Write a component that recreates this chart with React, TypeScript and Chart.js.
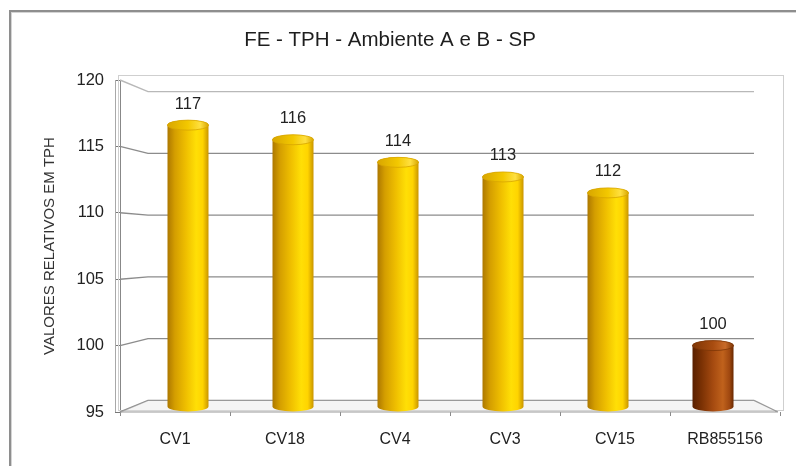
import React, { useEffect, useRef } from "react";
import { Chart, registerables } from "chart.js";

Chart.register(...registerables);

const categories = ["CV1", "CV18", "CV4", "CV3", "CV15", "RB855156"];
const values = [116.6, 115.5, 113.8, 112.7, 111.5, 100.0];
const yTicks = [95, 100, 105, 110, 115, 120];
const barPalette = ["gold", "gold", "gold", "gold", "gold", "brown"];
const TITLE = "FE - TPH - Ambiente A e B - SP";
const Y_TITLE = "VALORES RELATIVOS EM TPH";

const FONT = "'Liberation Sans', Arial, Helvetica, sans-serif";

const palettes: Record<string, { stops: [number, string][]; cap: string; capHi: string; rim: string }> = {
  gold: {
    stops: [
      [0, "#ad7800"],
      [0.18, "#d49e00"],
      [0.45, "#efbf00"],
      [0.7, "#ffdf06"],
      [0.86, "#ffd400"],
      [1, "#c99500"],
    ],
    cap: "#f3c800",
    capHi: "#ffe040",
    rim: "#d8a600",
  },
  brown: {
    stops: [
      [0, "#5a2000"],
      [0.22, "#7a3104"],
      [0.5, "#a54a10"],
      [0.74, "#c0621c"],
      [0.9, "#a04810"],
      [1, "#682800"],
    ],
    cap: "#a84c10",
    capHi: "#c86a28",
    rim: "#7e3606",
  },
};

const decorPlugin = {
  id: "decor3d",
  beforeDatasetsDraw(chart: any) {
    const { ctx, chartArea, scales } = chart;
    const { left, right, top, bottom } = chartArea;
    const y = scales.y;
    ctx.save();
    // plot frame
    ctx.strokeStyle = "#cfcfcf";
    ctx.lineWidth = 1;
    ctx.strokeRect(left - 2 + 0.5, top - 5 + 0.5, right + 3 - (left - 2), bottom - 2 - (top - 5));
    // back-wall gridlines with 3D connectors
    const cy = (top + bottom) / 2;
    const depth = 28;
    const backRight = right - 26;
    let yBackFloor = bottom;
    yTicks.forEach((v) => {
      const yF = y.getPixelForValue(v);
      const yB = cy + (yF - cy) * 0.93;
      if (v === yTicks[0]) yBackFloor = yB;
      ctx.strokeStyle = v === yTicks[yTicks.length - 1] ? "#b8b8b8" : "#8c8c8c";
      ctx.lineWidth = 1.4;
      ctx.beginPath();
      ctx.moveTo(left, yF);
      ctx.lineTo(left + depth, yB);
      ctx.lineTo(backRight, yB);
      ctx.stroke();
    });
    // floor
    ctx.fillStyle = "rgba(225,225,225,0.35)";
    ctx.beginPath();
    ctx.moveTo(left, bottom);
    ctx.lineTo(left + depth, yBackFloor);
    ctx.lineTo(backRight, yBackFloor);
    ctx.lineTo(right - 2, bottom);
    ctx.closePath();
    ctx.fill();
    ctx.strokeStyle = "#9a9a9a";
    ctx.lineWidth = 1.2;
    ctx.beginPath();
    ctx.moveTo(left, bottom);
    ctx.lineTo(right - 2, bottom);
    ctx.moveTo(backRight, yBackFloor);
    ctx.lineTo(right - 2, bottom);
    ctx.stroke();
    // second (depth) axis edge
    ctx.strokeStyle = "#a8a8a8";
    ctx.lineWidth = 1;
    ctx.beginPath();
    ctx.moveTo(left - 4.5, top);
    ctx.lineTo(left - 4.5, bottom);
    ctx.stroke();
    ctx.restore();
  },
  afterDatasetsDraw(chart: any) {
    const { ctx, chartArea } = chart;
    const meta = chart.getDatasetMeta(0);
    ctx.save();
    meta.data.forEach((el: any, i: number) => {
      const { x, y, base, width } = el.getProps(["x", "y", "base", "width"], true);
      const pal = palettes[barPalette[i]];
      const rx = width / 2;
      const ry = 5;
      const yTop = y;
      const yBot = Math.min(base, chartArea.bottom) - ry;
      const grad = ctx.createLinearGradient(x - rx, 0, x + rx, 0);
      pal.stops.forEach(([o, c]) => grad.addColorStop(o, c));
      ctx.fillStyle = grad;
      ctx.beginPath();
      ctx.moveTo(x - rx, yTop);
      ctx.lineTo(x - rx, yBot);
      ctx.ellipse(x, yBot, rx, ry, 0, Math.PI, 0, true);
      ctx.lineTo(x + rx, yTop);
      ctx.ellipse(x, yTop, rx, ry, 0, 0, Math.PI, true);
      ctx.closePath();
      ctx.fill();
      // cap
      const capGrad = ctx.createLinearGradient(x - rx, 0, x + rx, 0);
      capGrad.addColorStop(0, pal.rim);
      capGrad.addColorStop(0.5, pal.cap);
      capGrad.addColorStop(0.8, pal.capHi);
      capGrad.addColorStop(1, pal.rim);
      ctx.fillStyle = capGrad;
      ctx.beginPath();
      ctx.ellipse(x, yTop, rx, ry, 0, 0, Math.PI * 2);
      ctx.fill();
      ctx.strokeStyle = pal.rim;
      ctx.lineWidth = 0.8;
      ctx.stroke();
      // value label
      ctx.fillStyle = "#222";
      ctx.font = `16.5px ${FONT}`;
      ctx.textAlign = "center";
      ctx.textBaseline = "middle";
      ctx.fillText(String(Math.round(values[i])), x, yTop - 21);
    });
    ctx.restore();
  },
};

export default function App() {
  const canvasRef = useRef<HTMLCanvasElement | null>(null);

  useEffect(() => {
    const canvas = canvasRef.current;
    if (!canvas) return;
    const chart = new Chart(canvas, {
      type: "bar",
      data: {
        labels: categories,
        datasets: [
          {
            type: "bar",
            data: values.map((v, i) => ({ x: i, y: v })),
            xAxisID: "x2",
            yAxisID: "y",
            base: yTicks[0],
            barThickness: 41,
            backgroundColor: "rgba(0,0,0,0)",
            borderWidth: 0,
          } as any,
        ],
      },
      options: {
        animation: false,
        responsive: false,
        maintainAspectRatio: false,
        layout: { padding: { left: 0, right: 16, top: 0, bottom: 0 } },
        plugins: {
          legend: { display: false },
          tooltip: { enabled: false },
          title: {
            display: true,
            text: TITLE,
            color: "#1e1e1e",
            font: { family: FONT, size: 20.5, weight: "normal" as any },
            padding: { top: 28, bottom: 27.4 },
          },
        },
        scales: {
          x: {
            type: "category",
            labels: categories,
            offset: true,
            position: "bottom",
            grid: {
              display: true,
              offset: true,
              drawOnChartArea: false,
              drawTicks: true,
              tickLength: 4,
              color: "#8a8a8a",
            },
            border: { display: false },
            ticks: {
              color: "#222",
              font: { family: FONT, size: 16 },
              padding: 14,
              maxRotation: 0,
              autoSkip: false,
            },
            afterFit: (s: any) => {
              s.height = 54;
            },
          } as any,
          x2: {
            type: "linear",
            display: false,
            min: -0.6476,
            max: 5.638,
            offset: false,
          } as any,
          y: {
            type: "linear",
            position: "left",
            min: 95,
            max: 120,
            ticks: {
              stepSize: 5,
              color: "#222",
              font: { family: FONT, size: 16.5 },
              padding: 11,
            },
            grid: {
              display: true,
              drawOnChartArea: false,
              drawTicks: true,
              tickLength: 5,
              color: "#777",
            },
            border: { display: true, color: "#888", width: 1 },
            title: {
              display: true,
              text: Y_TITLE,
              color: "#333",
              font: { family: FONT, size: 15 },
              padding: { top: 41, bottom: 0 },
            },
            afterFit: (s: any) => {
              s.width = 120;
            },
          } as any,
        },
      },
      plugins: [decorPlugin],
    });
    return () => chart.destroy();
  }, []);

  return (
    <div style={{ position: "fixed", left: 0, top: 0, width: 796, height: 466, background: "#fff", overflow: "hidden" }}>
      <div
        style={{
          position: "absolute",
          left: 9,
          top: 10,
          width: 900,
          height: 600,
          borderTop: "2px solid #8e8e8e",
          borderLeft: "2px solid #8e8e8e",
          boxShadow: "inset 1px 1px 0 #d4d4d4",
        }}
      />
      <canvas
        ref={canvasRef}
        width={796}
        height={466}
        style={{ position: "absolute", left: 0, top: 0, display: "block" }}
      />
    </div>
  );
}
